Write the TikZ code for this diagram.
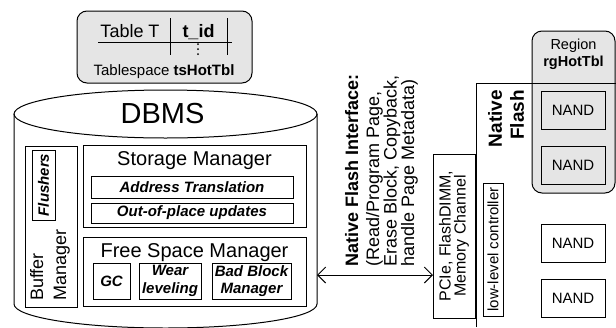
\documentclass[tikz,border=0pt]{standalone}
\usepackage{fontspec}
\setmainfont{Liberation Sans}
\usetikzlibrary{arrows.meta}

\begin{document}
\begin{tikzpicture}[
    x=1pt, y=-1pt,
    box/.style={draw, line width=1pt, inner sep=0pt, outer sep=0pt},
    roundbox/.style={box, fill=black!10, rounded corners=10pt},
    title/.style={font=\fontsize{20}{24}\selectfont, anchor=base},
    part/.style={box, font=\fontsize{15}{17.5}\selectfont\bfseries\itshape, align=center},
    nand/.style={box, minimum width=64pt, minimum height=38pt, font=\fontsize{15}{18}\selectfont},
    line/.style={draw, line width=1pt, {Straight Barb[length=8pt,width=16pt]}-{Straight Barb[length=8pt,width=16pt]}}
    ]
    \useasboundingbox (0,0) rectangle (616,327);

    \node [roundbox, minimum width=175pt, minimum height=72pt] (tablebox) at (164.5,47) {};
    \node [font=\fontsize{18}{20}\selectfont, anchor=base] (tablename) at (130,37) {Table T};
    \node [font=\fontsize{18}{20}\selectfont\bfseries, anchor=base] (tid) at (198.5,37) {t\_id};
    \node [font=\fontsize{15}{18}\selectfont, anchor=base] (tablespace) at (164,75) {Tablespace \textbf{tsHotTbl}};
    \draw [line width=1pt] (98,42) -- (232,42);
    \draw [line width=1pt] (170,18) -- (170,55);
    \draw [line width=1pt] (227,18) -- (227,55);
    \foreach \y in {44,49,54}
        \fill (198,\y) circle [radius=1pt];

    \node [minimum width=303pt, minimum height=190pt, inner sep=0pt, outer sep=0pt] (dbms) at (165.5,209) {};
    \coordinate (dbmsfoot) at (165.5,328);
    \draw [line width=1pt] (dbms.north) ellipse [x radius=151.5pt, y radius=24pt];
    \draw [line width=1pt] (dbms.north west) -- (dbms.south west)
        .. controls +(0,13.3) and +(-83.7,0) .. (dbmsfoot)
        .. controls +(83.7,0) and +(0,13.3) .. (dbms.south east) -- (dbms.north east);
    \node [font=\fontsize{29}{34}\selectfont, anchor=base] (dbmsname) at (162.5,123) {DBMS};

    \node [box, minimum width=52pt, minimum height=161pt] (buffer) at (51,226.5) {};
    \node [box, rotate=90, minimum width=70pt, minimum height=23pt, font=\fontsize{15}{17}\selectfont\bfseries\itshape] (flushers) at (43.5,185) {Flushers};
    \node [rotate=90, anchor=west, align=left, inner sep=0pt, font=\fontsize{18}{23}\selectfont] (buffername) at (50,301) {Buffer\\Manager};

    \node [box, minimum width=223pt, minimum height=82pt] (storage) at (194.5,186) {};
    \node [title] (storagename) at (194.5,165) {Storage Manager};
    \node [part, minimum width=202pt, minimum height=22pt] (addr) at (192,187) {Address Translation};
    \node [part, minimum width=202pt, minimum height=20pt] (outofplace) at (192,213) {Out-of-place updates};

    \node [box, minimum width=223pt, minimum height=69pt] (freespace) at (194.5,271.5) {};
    \node [title] (freespacename) at (194.5,257) {Free Space Manager};
    \node [part, minimum width=37pt, minimum height=36pt] (gc) at (111.5,281) {GC};
    \node [part, minimum width=62pt, minimum height=36pt] (wear) at (170,281) {Wear\\leveling};
    \node [part, minimum width=79pt, minimum height=36pt] (badblock) at (251.5,281) {Bad Block\\Manager};

    \node [box, rotate=90, minimum width=164pt, minimum height=42pt, align=center, font=\fontsize{16}{15}\selectfont] (pcie) at (454,236) {PCIe, FlashDIMM,\\Memory Channel};
    \coordinate (bus) at (0,275);
    \draw [line] (dbms.east |- bus) -- (pcie.north |- bus);
    \node [rotate=90, anchor=north west, align=left, inner sep=0pt, font=\fontsize{18}{17.5}\selectfont] (nfi) at (345,267) {\textbf{Native Flash Interface:}\\[3.5pt](Read/Program Page,\\Erase Block, Copyback,\\handle Page Metadata)};

    \node [roundbox, minimum width=83pt, minimum height=162pt] (region) at (573.5,112) {};
    \node [align=center, font=\fontsize{14.5}{16.5}\selectfont] (regionname) at (573.5,54.5) {Region\\\textbf{rgHotTbl}};
    \draw [line width=1pt] (476,327) -- (476,83) -- (616,83);
    \node [rotate=90, anchor=east, align=right, inner sep=0pt, font=\fontsize{19}{22}\selectfont\bfseries] (nativeflash) at (506,90) {Native\\Flash};
    \node [box, rotate=90, minimum width=133pt, minimum height=20pt, font=\fontsize{15}{18}\selectfont] (llc) at (493,249.5) {low-level controller};
    \node [nand] (nand1) at (573,110) {NAND};
    \node [nand] (nand2) at (573,165) {NAND};
    \node [nand] (nand3) at (573,243) {NAND};
    \node [nand] (nand4) at (573,298) {NAND};
\end{tikzpicture}
\end{document}
